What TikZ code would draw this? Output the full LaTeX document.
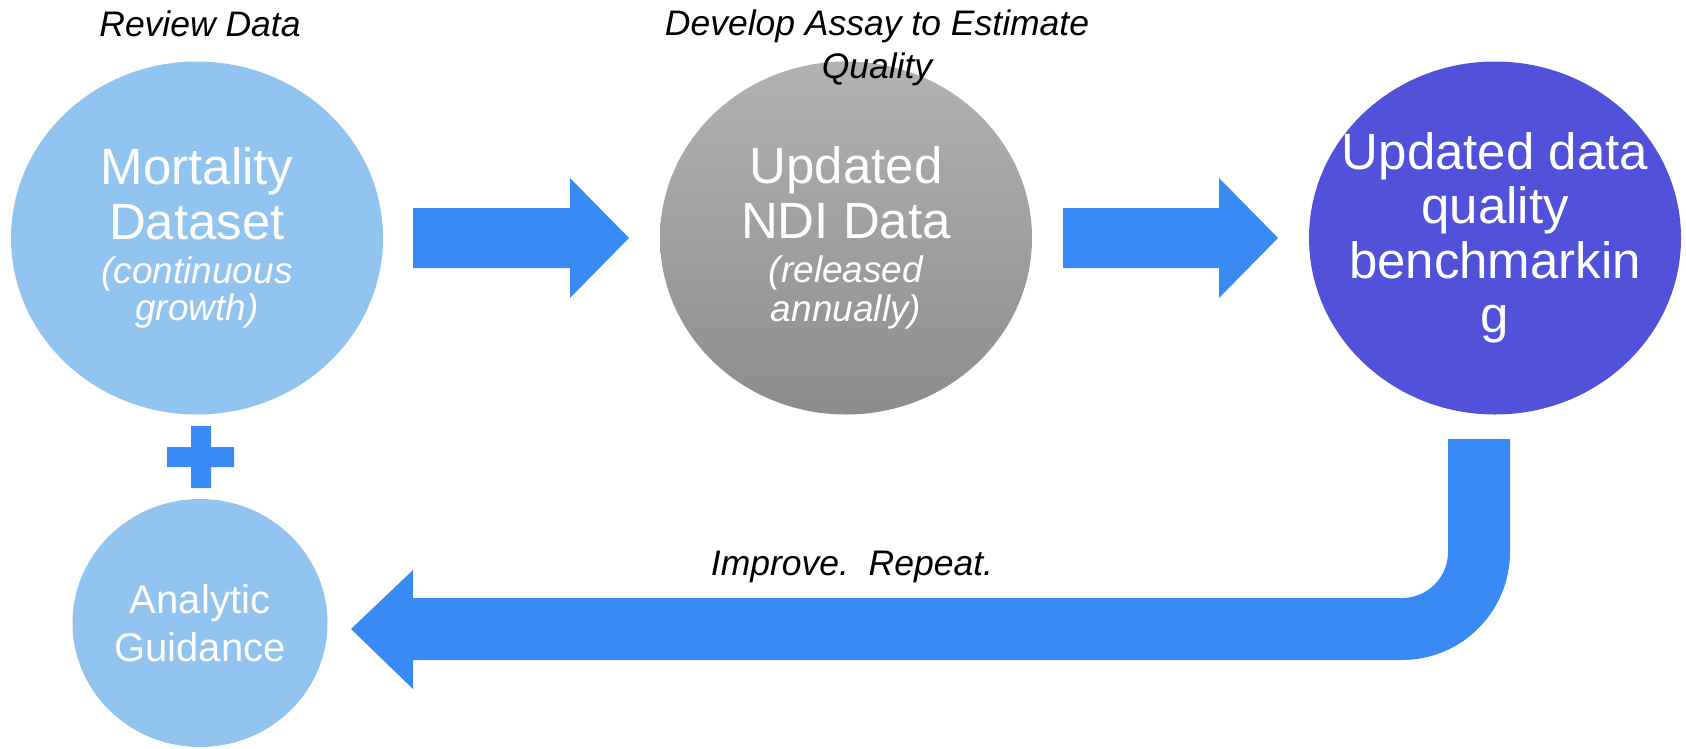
\documentclass[tikz,border=0pt]{standalone}
\usepackage{fontspec}
\setmainfont{Liberation Sans}
\usetikzlibrary{shapes.geometric}
\definecolor{lightblue}{RGB}{146,196,240}
\definecolor{arrowblue}{RGB}{58,138,245}
\definecolor{benchpurple}{RGB}{81,82,217}
\definecolor{graytop}{RGB}{178,178,178}
\definecolor{graybot}{RGB}{140,140,140}
\newcommand{\subtxt}{\fontsize{37}{37}\selectfont\itshape}
\begin{document}
\begin{tikzpicture}[x=1pt,y=-1pt,
  bigcirc/.style={ellipse, inner sep=0pt, minimum width=372pt, minimum height=353pt,
    text=white, align=center, font=\fontsize{51}{55}\selectfont},
  circtext/.style={inner sep=0pt, text=white, align=center, font=\fontsize{51}{54.5}\selectfont},
  smallcirc/.style={ellipse, inner sep=0pt, minimum width=255pt, minimum height=248pt,
    text=white, align=center, font=\fontsize{40}{48}\selectfont},
  blockarrow/.style={fill=arrowblue, draw=none},
  caption/.style={font=\fontsize{35.5}{43}\selectfont\itshape, text=black, inner sep=0pt, align=center}]
\useasboundingbox (0,0) rectangle (1686,748);

% circles
\node[bigcirc, fill=lightblue] (mort) at (197,238)
  {Mortality\\Dataset\\[-11pt]\subtxt(continuous\\[-18pt]\subtxt growth)};
\node[bigcirc, top color=graytop, bottom color=graybot] (ndi) at (846,238)
  {Updated\\NDI Data\\[-11pt]\subtxt(released\\[-16pt]\subtxt annually)};
\node[bigcirc, fill=benchpurple] (bench) at (1495,238) {};
\node[circtext] (benchtext) at (bench.center) {Updated data\\quality\\benchmarkin\\g};
\node[smallcirc, fill=lightblue] (ag) at (200,623) {Analytic\\Guidance};

% plus sign
\fill[blockarrow] (191,426) rectangle (211,488) (167,447) rectangle (234,467);

% straight block arrows
\fill[blockarrow] (413,208) -- (570,208) -- (570,178) -- (629,238) -- (570,298)
  -- (570,268) -- (413,268) -- cycle;
\fill[blockarrow] (1063,208) -- (1219,208) -- (1219,178) -- (1278,238) -- (1219,298)
  -- (1219,268) -- (1063,268) -- cycle;

% bent return arrow
\fill[blockarrow] (1448,439) -- (1510,439) -- (1510,552)
  .. controls (1510,611.6) and (1461.6,660) .. (1402,660)
  -- (413,660) -- (413,689) -- (351,629) -- (413,570) -- (413,598) -- (1402,598)
  .. controls (1427.4,598) and (1448,577.4) .. (1448,552) -- cycle;

% captions
\node[caption, anchor=base] (review) at (200,36) {Review Data};
\node[caption, anchor=north] (develop) at (877,10) {Develop Assay to Estimate\\Quality};
\node[caption, anchor=base] (improve) at (852,575) {Improve.~~Repeat.};
\end{tikzpicture}
\end{document}
